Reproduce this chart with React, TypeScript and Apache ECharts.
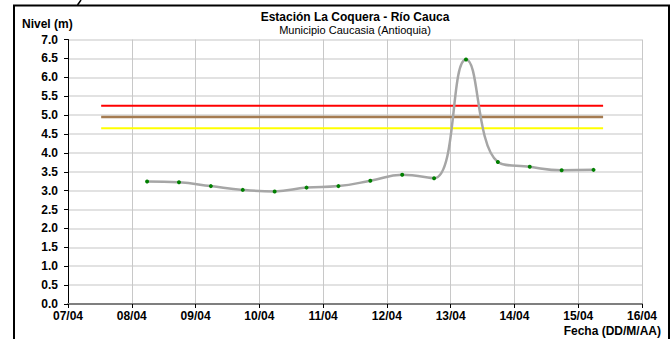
import React, { useEffect, useRef } from "react";
import * as echarts from "echarts";

// Tick labels of the date axis (one per day, starting 07/04 00:00)
const dateLabels = ["07/04", "08/04", "09/04", "10/04", "11/04", "12/04", "13/04", "14/04", "15/04", "16/04"];
// Observation times, in days since 07/04 00:00
const obsDays = [1.24, 1.74, 2.24, 2.74, 3.24, 3.74, 4.24, 4.74, 5.24, 5.74, 6.24, 6.74, 7.24, 7.74, 8.24];
// Water level (m)
const levels = [3.24, 3.22, 3.12, 3.02, 2.98, 3.08, 3.12, 3.26, 3.42, 3.33, 6.47, 3.76, 3.63, 3.54, 3.55];
// Alert thresholds (m)
const thresholdDays = [0.52, 8.39];
const redLevel = 5.25;
const orangeLevel = 4.95;
const yellowLevel = 4.65;
const yTicks = ["0.0", "0.5", "1.0", "1.5", "2.0", "2.5", "3.0", "3.5", "4.0", "4.5", "5.0", "5.5", "6.0", "6.5", "7.0"];

const FONT = "Liberation Sans";

export default function App() {
  const ref = useRef<HTMLDivElement>(null);
  useEffect(() => {
    if (!ref.current) return;
    const chart = echarts.init(ref.current, undefined, { renderer: "svg" });
    const thr = (v: number, color: string, w: number) => ({
      type: "line",
      data: thresholdDays.map((d) => [d, v]),
      symbol: "none",
      lineStyle: { color, width: w },
      silent: true,
      z: 2,
    });
    const labelStyle = { color: "#000000", fontWeight: "bold", fontSize: 12, fontFamily: FONT };
    chart.setOption({
      animation: false,
      backgroundColor: "#ffffff",
      grid: { left: 68, right: 29, top: 39.5, bottom: 35, containLabel: false },
      xAxis: {
        type: "value",
        min: 0,
        max: dateLabels.length - 1,
        interval: 1,
        axisLine: { show: true, onZero: false, lineStyle: { color: "#7f7f7f", width: 2 } },
        axisTick: { show: true, length: 4, lineStyle: { color: "#000000", width: 1 } },
        axisLabel: {
          margin: 6,
          ...labelStyle,
          formatter: (v: number) => dateLabels[Math.round(v)] ?? "",
        },
        splitLine: { show: true, lineStyle: { color: "#c8c8c8", width: 1 } },
      },
      yAxis: {
        type: "value",
        min: 0,
        max: 7,
        interval: 0.5,
        axisLine: { show: true, lineStyle: { color: "#000000", width: 1 } },
        axisTick: { show: true, length: 4, lineStyle: { color: "#000000" } },
        axisLabel: {
          margin: 10,
          ...labelStyle,
          formatter: (v: number) => yTicks[Math.round(v * 2)] ?? "",
        },
        splitLine: { show: true, lineStyle: { color: "#d9d9d9", width: 1.5 } },
      },
      series: [
        thr(redLevel, "#ff0000", 2),
        thr(orangeLevel, "#a57c52", 2.5),
        thr(yellowLevel, "#ffff00", 2),
        {
          type: "line",
          data: obsDays.map((d, i) => [d, levels[i]]),
          smooth: 0.45,
          symbol: "circle",
          symbolSize: 4,
          showSymbol: true,
          itemStyle: { color: "#008000" },
          lineStyle: { color: "#a6a6a6", width: 2.5 },
          z: 3,
        },
      ],
      graphic: [
        {
          type: "rect",
          shape: { x: 14, y: 5.5, width: 655, height: 345 },
          style: { fill: "none", stroke: "#000000", lineWidth: 2 },
          silent: true,
        },
        {
          type: "line",
          shape: { x1: 81, y1: 0, x2: 77.5, y2: 5 },
          style: { stroke: "#000000", lineWidth: 1.5 },
          silent: true,
        },
        {
          type: "text",
          x: 355,
          y: 17,
          style: { text: "Estación La Coquera - Río Cauca", font: "bold 12px " + FONT, fill: "#000", align: "center", verticalAlign: "middle" },
        },
        {
          type: "text",
          x: 355,
          y: 29.5,
          style: { text: "Municipio Caucasia (Antioquia)", font: "11px " + FONT, fill: "#000", align: "center", verticalAlign: "middle" },
        },
        {
          type: "text",
          x: 22,
          y: 24,
          style: { text: "Nivel (m)", font: "bold 12px " + FONT, fill: "#000", align: "left", verticalAlign: "middle" },
        },
        {
          type: "text",
          x: 661,
          y: 331,
          style: { text: "Fecha (DD/M/AA)", font: "bold 12px " + FONT, fill: "#000", align: "right", verticalAlign: "middle" },
        },
      ],
    });
    return () => chart.dispose();
  }, []);
  return (
    <div
      ref={ref}
      style={{ position: "fixed", left: 0, top: 0, width: 671, height: 339, background: "#fff" }}
    />
  );
}
